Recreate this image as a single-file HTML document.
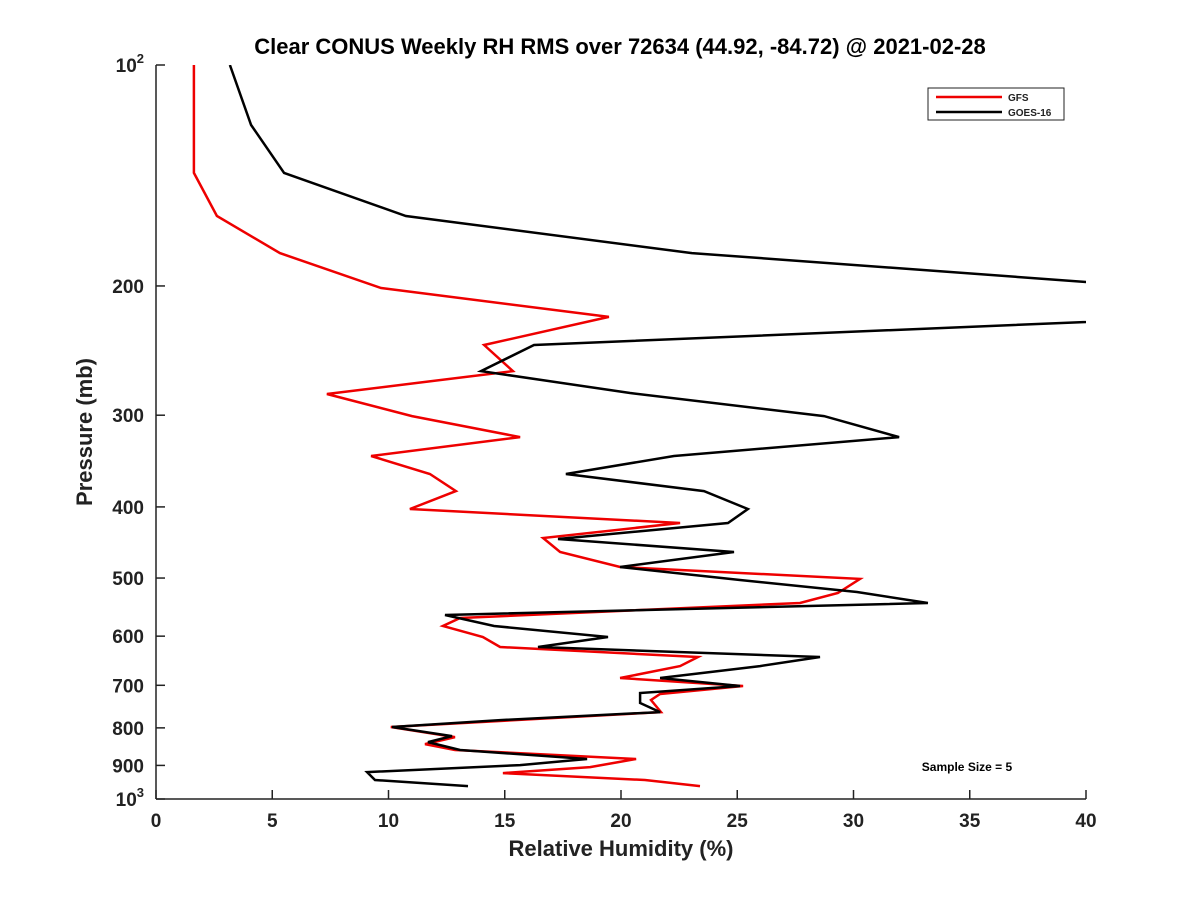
<!DOCTYPE html>
<html><head><meta charset="utf-8"><style>
body{margin:0;background:#fff;}
svg text{font-family:"Liberation Sans","DejaVu Sans",sans-serif;font-weight:bold;fill:#222;}
</style></head><body>
<svg id="chart" width="1200" height="900" xmlns="http://www.w3.org/2000/svg">
<defs><clipPath id="plotclip"><rect x="156" y="65" width="930" height="734"/></clipPath></defs>
<text x="620" y="54" font-size="22" text-anchor="middle" style="fill:#000">Clear CONUS Weekly RH RMS over 72634 (44.92, -84.72) @ 2021-02-28</text>
<g id="axes"></g>
<g id="series" clip-path="url(#plotclip)"></g>
<g>
<rect x="928" y="88" width="136" height="32" fill="#fff" stroke="#222" stroke-width="1"/>
<line x1="936" y1="97" x2="1002" y2="97" stroke="#e00" stroke-width="2.5"/>
<text x="1008" y="101" font-size="10">GFS</text>
<line x1="936" y1="112" x2="1002" y2="112" stroke="#000" stroke-width="2.5"/>
<text x="1008" y="116" font-size="10">GOES-16</text>
</g>
<text x="967" y="771" font-size="12" text-anchor="middle" style="fill:#000">Sample Size = 5</text>
<text x="621" y="856" font-size="22" text-anchor="middle">Relative Humidity (%)</text>
<text transform="translate(92,432) rotate(-90)" font-size="22" text-anchor="middle">Pressure (mb)</text>
</svg>
<script>
const xTicks=[0,5,10,15,20,25,30,35,40];
const yTicks=[100,200,300,400,500,600,700,800,900,1000];
const yTickLabels=["10|2","200","300","400","500","600","700","800","900","10|3"];
const gfsPressure=[100,140.3,160.6,180.4,201.3,220.4,240.7,261.2,280.7,300.8,321.3,341,360.8,380.6,402.6,420.7,441,460.8,482.9,501.4,524,540.8,566.8,581.1,601.5,620.8,640.6,659,684.2,701.5,719.3,733.1,761.3,797.9,823.4,841.7,857.6,882.2,904.8,922.1,942.2,960.2];
const gfsRH=[1.63,1.63,2.62,5.33,9.68,19.48,14.11,15.35,7.35,11.01,15.66,9.25,11.78,12.9,10.92,22.54,16.65,17.38,19.96,30.28,29.33,27.7,13.08,12.34,14.06,14.8,23.31,22.54,19.96,25.25,21.68,21.29,21.72,10.1,12.86,11.57,12.86,20.65,18.67,14.92,21.03,23.4];
const goesPressure=[100,120.7,140.3,160.6,180.4,214,240.7,261.2,279.8,300.8,321.3,341,360.8,380.6,402.6,420.7,442.4,460.8,482.9,503,522.4,540.8,561.5,581.1,601.5,620.8,640.6,659,684.2,701.5,717.1,740,761.3,780.7,797.9,820.9,836.4,857.6,882.2,899.1,919.1,942.2,960.2];
const goesRH=[3.18,4.09,5.51,10.75,23.05,55,16.26,13.98,20.39,28.73,31.96,22.28,17.63,23.57,25.46,24.6,17.29,24.86,19.96,25.12,30.15,33.2,12.43,14.54,19.44,16.43,28.56,25.98,21.68,25.12,20.82,20.82,21.68,14.8,10.15,12.73,11.7,13.08,18.54,15.66,9.08,9.42,13.42];

const X0=156,X1=1086,Y0=65,Y1=799;
function xs(v){return X0+(v-0)/40*(X1-X0);}
function ys(p){return Y0+(Math.log10(p)-2)*(Y1-Y0);}
const NS="http://www.w3.org/2000/svg";
const axes=document.getElementById('axes');
function mk(tag,attrs,parent){const e=document.createElementNS(NS,tag);for(const k in attrs)e.setAttribute(k,attrs[k]);parent.appendChild(e);return e;}
const xl=mk('line',{x1:X0,y1:Y1,x2:X1,y2:Y1,stroke:'#222','stroke-width':1.5},axes);


const yl=mk('line',{x1:X0,y1:Y0,x2:X0,y2:Y1,stroke:'#222','stroke-width':1.5},axes);


xTicks.forEach(t=>{
  const x=xs(t);
  mk('line',{x1:x,y1:Y1,x2:x,y2:Y1-9,stroke:'#222','stroke-width':1.5},axes);
  const tx=mk('text',{x:x,y:Y1+28,'font-size':19,'text-anchor':'middle'},axes);
  tx.textContent=t;
  
  
});
yTicks.forEach((t,i)=>{
  const y=ys(t);
  mk('line',{x1:X0,y1:y,x2:X0+9,y2:y,stroke:'#222','stroke-width':1.5},axes);
  const lab=yTickLabels[i];
  const tx=mk('text',{x:X0-12,y:y+7,'font-size':19,'text-anchor':'end'},axes);
  if(lab.indexOf('|')>=0){
    const parts=lab.split('|');
    const a=mk('tspan',{},tx);a.textContent=parts[0];
    const b=mk('tspan',{dy:-9,'font-size':13},tx);b.textContent=parts[1];
  } else tx.textContent=lab;
  
  
});
const series=document.getElementById('series');
function drawLine(P,R,color,name){
  const pts=P.map((p,i)=>xs(R[i]).toFixed(1)+','+ys(p).toFixed(1)).join(' ');
  const pl=mk('polyline',{points:pts,fill:'none',stroke:color,'stroke-width':2.5,'stroke-linejoin':'miter'},series);
  
  
}
drawLine(gfsPressure,gfsRH,'#e00','gfs-line');
drawLine(goesPressure,goesRH,'#000','goes16-line');
</script>
</body></html>
